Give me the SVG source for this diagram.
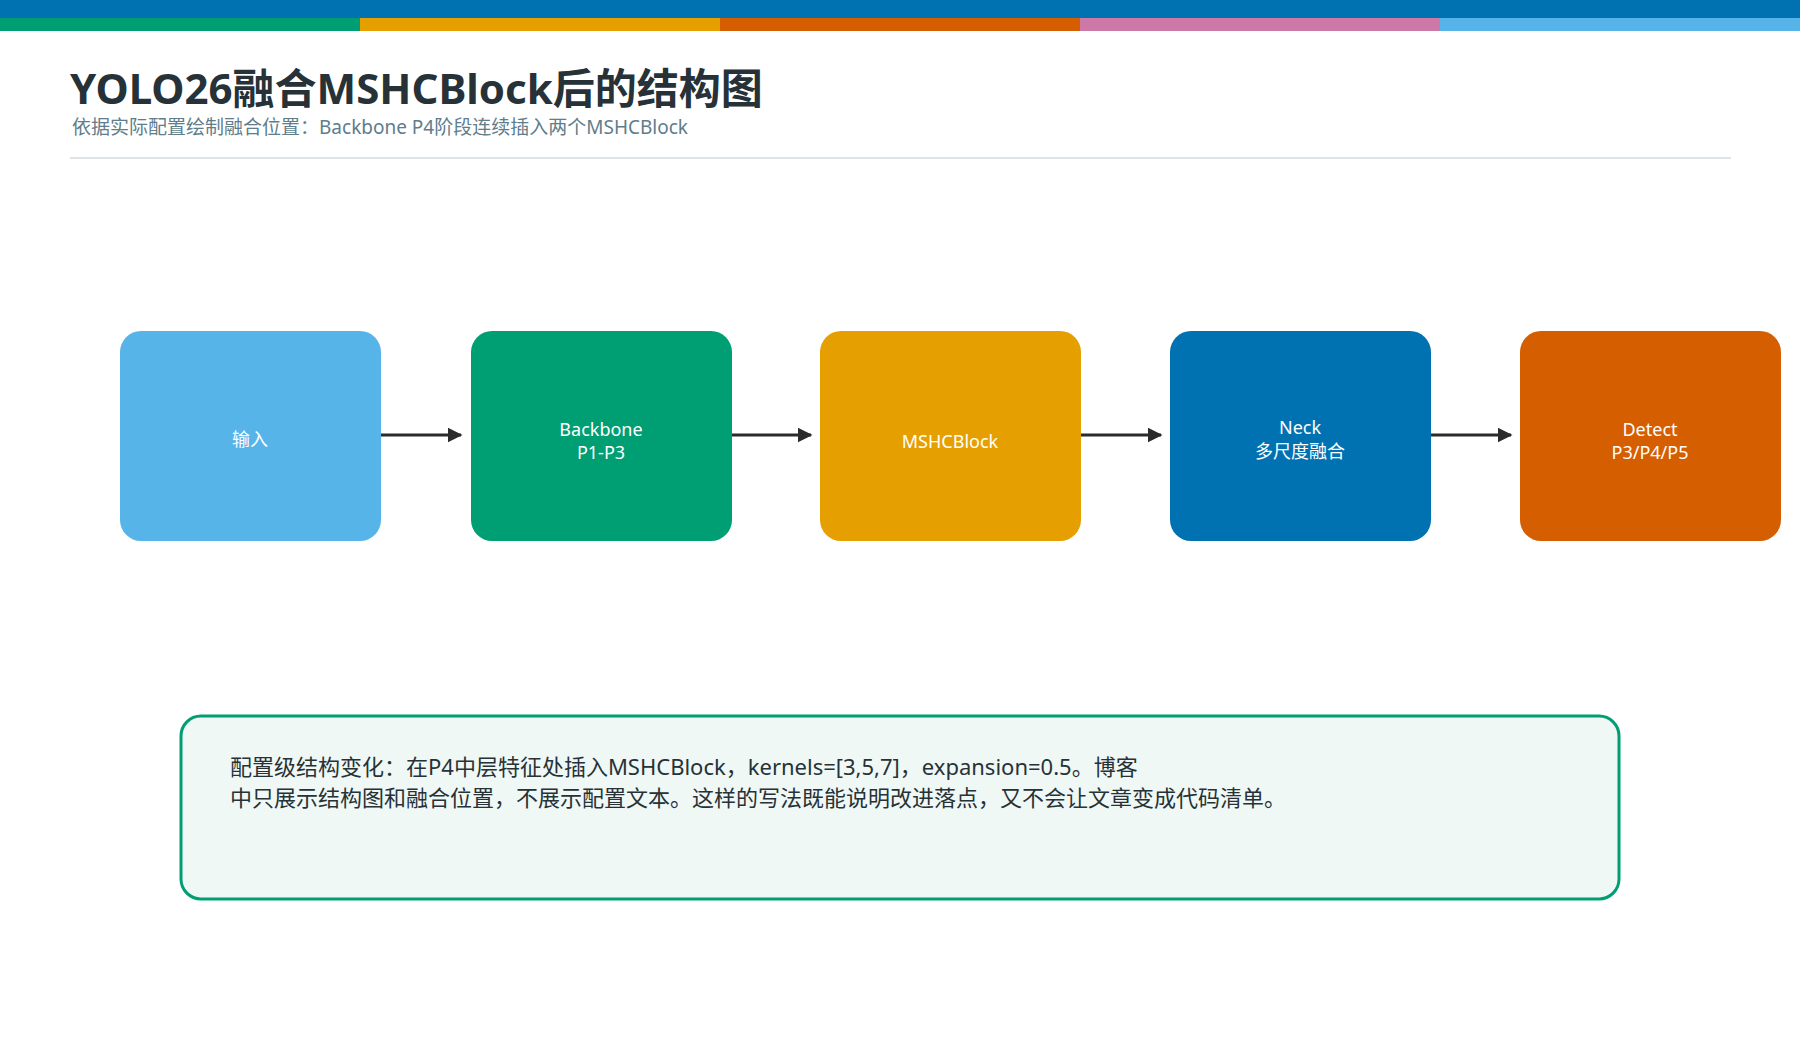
<svg xmlns="http://www.w3.org/2000/svg" width="1800" height="1050" viewBox="0 0 1800 1050">
<defs>
<style>
.t{font-family:"Noto Sans","Noto Sans CJK SC",sans-serif}
.bx{stroke:none}
.lbl{font-family:"Noto Sans","Noto Sans CJK SC",sans-serif;font-size:18px;fill:#ffffff;text-anchor:middle}
.cn{stroke:#2b2b2b;stroke-width:3;fill:none;marker-end:url(#ah)}
</style>
<marker id="ah" viewBox="0 0 10 10" refX="9" refY="5" markerWidth="5" markerHeight="5" orient="auto"><path d="M0,0L10,5L0,10z" fill="#2b2b2b"/></marker>
</defs>
<rect width="1800" height="1050" fill="#ffffff"/>
<rect x="0" y="0" width="1800" height="18" fill="#0072B2"/>
<rect x="0" y="18" width="360" height="13" fill="#009E73"/>
<rect x="360" y="18" width="360" height="13" fill="#E69F00"/>
<rect x="720" y="18" width="360" height="13" fill="#D55E00"/>
<rect x="1080" y="18" width="360" height="13" fill="#CC79A7"/>
<rect x="1440" y="18" width="360" height="13" fill="#56B4E9"/>
<text class="t" x="70" y="104" font-size="42" font-weight="bold" fill="#263238">YOLO26融合MSHCBlock后的结构图</text>
<text class="t" x="72" y="134" font-size="19" fill="#607D8B">依据实际配置绘制融合位置：Backbone P4阶段连续插入两个MSHCBlock</text>
<line x1="70" y1="158" x2="1731" y2="158" stroke="#DDE3E6" stroke-width="2"/>
<g id="connectors">
<line class="cn" x1="381" y1="435" x2="461" y2="435"/>
<line class="cn" x1="731" y1="435" x2="811" y2="435"/>
<line class="cn" x1="1080" y1="435" x2="1161" y2="435"/>
<line class="cn" x1="1430" y1="435" x2="1511" y2="435"/>
</g>
<g id="n1"><rect class="bx" x="120" y="331" width="261" height="210" rx="21" fill="#56B4E9"/><text class="lbl" x="250" y="446">输入</text></g>
<g id="n2"><rect class="bx" x="471" y="331" width="261" height="210" rx="21" fill="#009E73"/><text class="lbl" x="601" y="436">Backbone</text><text class="lbl" x="601" y="459">P1-P3</text></g>
<g id="n3"><rect class="bx" x="820" y="331" width="261" height="210" rx="21" fill="#E69F00"/><text class="lbl" x="950" y="448">MSHCBlock</text></g>
<g id="n4"><rect class="bx" x="1170" y="331" width="261" height="210" rx="21" fill="#0072B2"/><text class="lbl" x="1300" y="434">Neck</text><text class="lbl" x="1300" y="458">多尺度融合</text></g>
<g id="n5"><rect class="bx" x="1520" y="331" width="261" height="210" rx="21" fill="#D55E00"/><text class="lbl" x="1650" y="436">Detect</text><text class="lbl" x="1650" y="459">P3/P4/P5</text></g>
<g id="note"><rect x="181" y="716" width="1438" height="183" rx="20" fill="#F0F8F5" stroke="#009E73" stroke-width="3"/>
<text class="t" x="230" y="775" font-size="22" fill="#263238">配置级结构变化：在P4中层特征处插入MSHCBlock，kernels=[3,5,7]，expansion=0.5。博客</text>
<text class="t" x="230" y="806" font-size="22" fill="#263238">中只展示结构图和融合位置，不展示配置文本。这样的写法既能说明改进落点，又不会让文章变成代码清单。</text></g>
</svg>
